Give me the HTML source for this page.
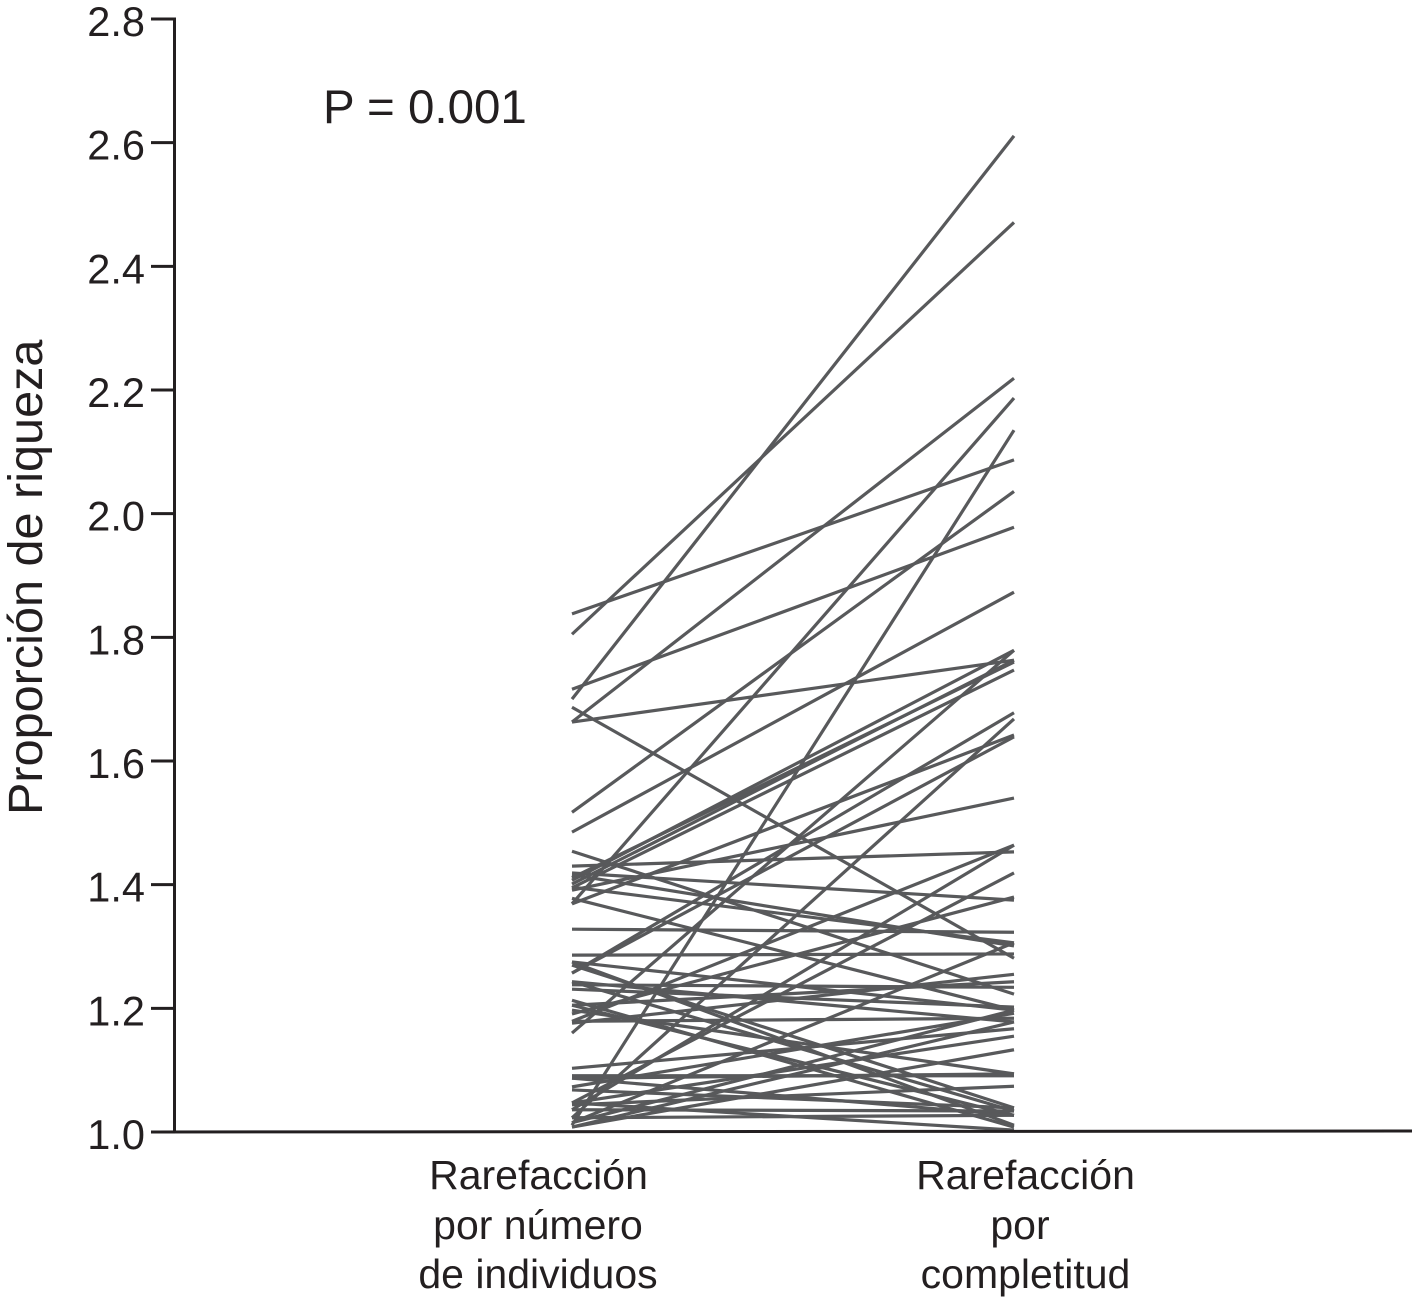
<!DOCTYPE html>
<html lang="es">
<head>
<meta charset="utf-8">
<title>Proporción de riqueza</title>
<style>
html,body{margin:0;padding:0;background:#fff;}
svg{display:block;font-family:"Liberation Sans",Arial,sans-serif;}
text{fill:#231f20;}
</style>
</head>
<body>
<svg id="chart" width="1412" height="1298" viewBox="0 0 1412 1298" xmlns="http://www.w3.org/2000/svg">
  <g id="series"></g>
  <line x1="174.5" y1="17.5" x2="174.5" y2="1133" stroke="#231f20" stroke-width="3"/>
  <line x1="151" y1="1132" x2="1412" y2="1131" stroke="#231f20" stroke-width="3"/>
  <g id="ticks"></g>
  <text transform="translate(42,815) rotate(-90)" font-size="48.6">Proporción de riqueza</text>
  <text x="323" y="123" font-size="47.5">P = 0.001</text>
  <g font-size="41" text-anchor="middle">
    <text x="538.5" y="1189">Rarefacción</text>
    <text x="538" y="1239">por número</text>
    <text x="538" y="1288">de individuos</text>
  </g>
  <g font-size="41" text-anchor="middle">
    <text x="1025.5" y="1189">Rarefacción</text>
    <text x="1020" y="1239">por</text>
    <text x="1025.5" y="1288">completitud</text>
  </g>
</svg>
<script>
const yTicks = [1.0, 1.2, 1.4, 1.6, 1.8, 2.0, 2.2, 2.4, 2.6, 2.8];
const tickLabels = ["1.0", "1.2", "1.4", "1.6", "1.8", "2.0", "2.2", "2.4", "2.6", "2.8"];
const categories = ["individuos", "completitud"];
const byIndividuals = [
  1.838,1.805,1.716,1.700,1.687,1.663,1.663,1.517,1.485,1.454,
  1.430,1.419,1.407,1.411,1.395,1.369,1.369,1.391,1.401,1.416,
  1.257,1.257,1.328,1.286,1.275,1.270,1.036,1.047,1.191,1.015,
  1.176,1.205,1.238,1.103,1.047,1.008,1.044,1.091,1.197,1.073,
  1.011,1.023,1.160,1.243,1.231,1.275,1.213,1.205,1.087,1.068,
  1.047,1.036,1.023,1.179,1.243,1.179,1.087,1.015,1.008,1.396,
  1.378
];
const byCompleteness = [
  2.087,2.471,1.978,2.611,1.281,2.219,1.763,2.036,1.873,1.223,
  1.453,1.375,1.779,1.760,1.747,2.187,1.642,1.540,1.763,1.301,
  1.678,1.639,1.323,1.288,1.197,1.039,1.464,1.419,1.380,1.306,
  1.255,1.243,1.234,1.167,1.155,1.133,1.074,1.091,1.094,1.192,
  2.135,1.668,1.779,1.178,1.202,1.011,1.008,1.027,1.027,1.039,
  1.003,1.034,1.027,1.464,1.034,1.184,1.094,1.197,1.178,1.306,
  1.197
];

const plotTop = 19, plotBottom = 1132, yMin = 1.0, yMax = 2.8;
const xLeft = 572, xRight = 1014;
function yScale(v) { return plotBottom - (v - yMin) * (plotBottom - plotTop) / (yMax - yMin); }
function xScale(i) { return xLeft + i * (xRight - xLeft) / (categories.length - 1); }

const NS = "http://www.w3.org/2000/svg";
const seriesGroup = document.getElementById("series");
byIndividuals.forEach(function (v, i) {
  const el = document.createElementNS(NS, "line");
  
  
  el.setAttribute("x1", xScale(0));
  el.setAttribute("y1", yScale(v));
  el.setAttribute("x2", xScale(1));
  el.setAttribute("y2", yScale(byCompleteness[i]));
  el.setAttribute("stroke", "#58595b");
  el.setAttribute("stroke-width", "3.2");
  seriesGroup.appendChild(el);
});

const tickGroup = document.getElementById("ticks");
yTicks.forEach(function (t, i) {
  const mark = document.createElementNS(NS, "line");
  
  
  mark.setAttribute("x1", 151);
  mark.setAttribute("x2", 175);
  mark.setAttribute("y1", yScale(t));
  mark.setAttribute("y2", yScale(t));
  mark.setAttribute("stroke", "#231f20");
  mark.setAttribute("stroke-width", "3");
  tickGroup.appendChild(mark);
  const label = document.createElementNS(NS, "text");
  
  
  label.setAttribute("x", 145);
  label.setAttribute("y", yScale(t) + 17);
  label.setAttribute("font-size", "41.5");
  label.setAttribute("text-anchor", "end");
  label.textContent = tickLabels[i];
  tickGroup.appendChild(label);
});
</script>
</body>
</html>
